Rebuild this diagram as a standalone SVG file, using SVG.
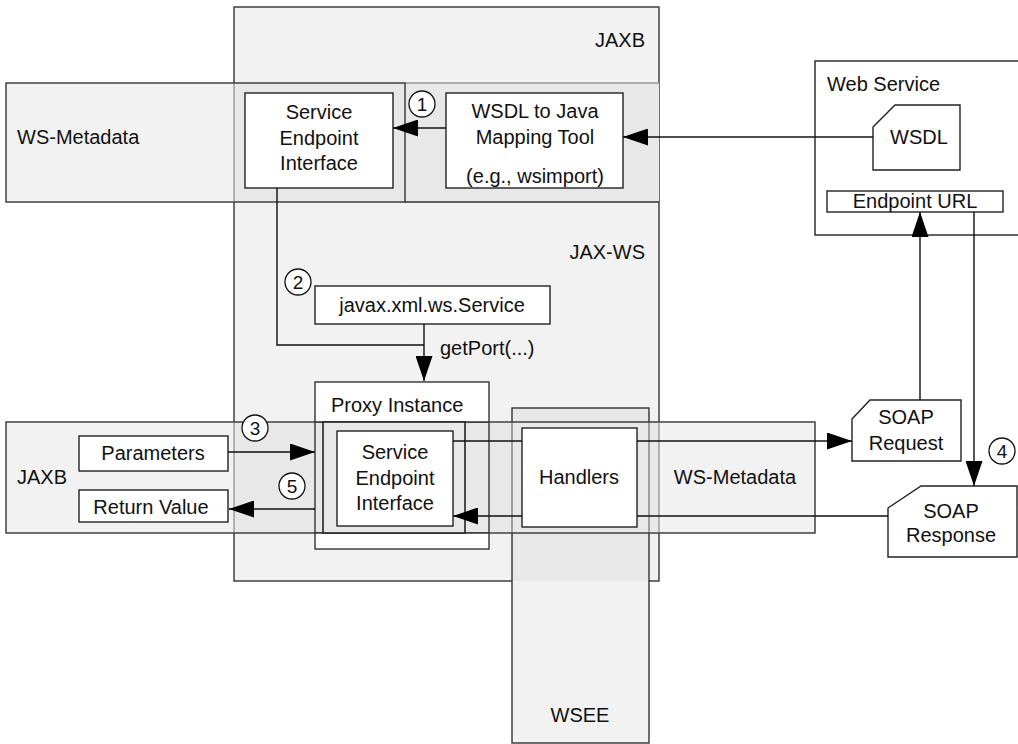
<svg xmlns="http://www.w3.org/2000/svg" width="1018" height="744" viewBox="0 0 1018 744">
<style>
text{font-family:"Liberation Sans",Arial,sans-serif;font-size:20px;fill:#111}
.c{text-anchor:middle}
.r{text-anchor:end}
.num{font-size:19px;text-anchor:middle}
.box{fill:#fff;stroke:#222;stroke-width:1.4}
.reg{fill:#f2f2f2;stroke:#333;stroke-width:1.4}
.ov{fill:#e8e8e8;stroke:none}
.edge{fill:none;stroke:#333;stroke-width:1.4}
.light{fill:none;stroke:#999;stroke-width:1.4}
.conn{fill:none;stroke:#111;stroke-width:1.4}
.circ{fill:#fff;stroke:#111;stroke-width:1.3}
</style>
<defs>
<marker id="ah" markerUnits="userSpaceOnUse" markerWidth="25" markerHeight="17" refX="25" refY="8.5" orient="auto">
<path d="M0,0 L25,8.5 L0,17 z" fill="#000"/>
</marker>
</defs>

<g id="regions">
  <g id="jaxws-box">
    <rect class="reg" x="234" y="7" width="425" height="574"/>
    <text class="r" x="645" y="47">JAXB</text>
    <text class="r" x="645" y="259">JAX-WS</text>
  </g>
  <g id="top-band">
    <rect class="ov" x="234" y="83" width="425" height="119"/>
    <line class="light" x1="405" y1="83" x2="659" y2="83"/>
    <line class="edge" x1="405" y1="202" x2="659" y2="202"/>
  </g>
  <g id="ws-metadata-top">
    <rect x="6" y="83" width="228" height="119" fill="#f2f2f2"/>
    <rect class="edge" x="6" y="83" width="399" height="119"/>
    <line x1="234" y1="83" x2="234" y2="202" stroke="#777" stroke-width="1"/>
    <text x="17" y="144">WS-Metadata</text>
  </g>
  <g id="web-service">
    <rect class="box" x="815" y="61" width="210" height="174"/>
    <text x="827" y="91">Web Service</text>
  </g>
  <g id="wsee">
    <rect x="512" y="408" width="137" height="335" fill="#f2f2f2"/>
    <rect class="ov" x="512" y="408" width="137" height="173"/>
    <rect class="edge" x="512" y="408" width="137" height="335"/>
    <text class="c" x="580" y="722">WSEE</text>
  </g>
  <g id="bottom-band">
    <rect x="6" y="422" width="228" height="111" fill="#f2f2f2"/>
    <rect x="659" y="422" width="156" height="111" fill="#f2f2f2"/>
    <rect class="ov" x="234" y="422" width="425" height="111"/>
    <rect class="edge" x="6" y="422" width="809" height="111"/>
    <line x1="234" y1="422" x2="234" y2="533" stroke="#777" stroke-width="1"/>
    <line x1="659" y1="422" x2="659" y2="533" stroke="#777" stroke-width="1"/>
    <line x1="512" y1="422" x2="512" y2="533" stroke="#555" stroke-width="1"/>
    <line x1="649" y1="422" x2="649" y2="533" stroke="#555" stroke-width="1"/>
    <text x="17" y="484">JAXB</text>
    <text class="c" x="735" y="484">WS-Metadata</text>
  </g>
  <g id="proxy-instance">
    <rect x="315" y="382" width="174" height="40" fill="#fff"/>
    <rect x="315" y="533" width="174" height="16" fill="#fff"/>
    <rect class="edge" x="315" y="382" width="174" height="167"/>
    <line class="edge" x1="315" y1="422" x2="489" y2="422"/>
    <line class="edge" x1="315" y1="533" x2="489" y2="533"/>
    <text x="331" y="412">Proxy Instance</text>
    <rect x="323" y="422" width="142" height="111" fill="#e8e8e8" stroke="#222" stroke-width="1.6"/>
  </g>
</g>

<g id="sei-top">
  <rect class="box" x="245" y="93" width="148" height="95"/>
  <text class="c" x="319" y="119">Service</text>
  <text class="c" x="319" y="145">Endpoint</text>
  <text class="c" x="319" y="170">Interface</text>
</g>
<g id="mapping-tool">
  <rect class="box" x="446" y="93" width="177" height="95"/>
  <text class="c" x="535" y="118">WSDL to Java</text>
  <text class="c" x="535" y="144">Mapping Tool</text>
  <text class="c" x="535" y="183">(e.g., wsimport)</text>
</g>
<g id="wsdl">
  <path class="box" d="M873,127 L895,105 L960,105 L960,170 L873,170 z"/>
  <text class="c" x="919" y="144">WSDL</text>
</g>
<g id="endpoint-url">
  <rect class="box" x="827" y="191" width="176" height="21"/>
  <text class="c" x="915" y="208">Endpoint URL</text>
</g>
<g id="service">
  <rect class="box" x="315" y="286" width="235" height="38"/>
  <text class="c" x="432" y="312">javax.xml.ws.Service</text>
</g>
<g id="sei-inner">
  <rect class="box" x="337" y="431" width="116" height="95"/>
  <text class="c" x="395" y="459">Service</text>
  <text class="c" x="395" y="485">Endpoint</text>
  <text class="c" x="395" y="510">Interface</text>
</g>
<g id="parameters">
  <rect class="box" x="79" y="436" width="149" height="35"/>
  <text class="c" x="153" y="460">Parameters</text>
</g>
<g id="return-value">
  <rect class="box" x="79" y="490" width="149" height="32"/>
  <text class="c" x="151" y="514">Return Value</text>
</g>
<g id="handlers">
  <rect class="box" x="522" y="428" width="115" height="99"/>
  <text class="c" x="579" y="484">Handlers</text>
</g>
<g id="soap-request">
  <path class="box" d="M852,419 L870,400 L961,400 L961,461 L852,461 z"/>
  <text class="c" x="906" y="424">SOAP</text>
  <text class="c" x="906" y="450">Request</text>
</g>
<g id="soap-response">
  <path class="box" d="M888,508 L921,486 L1017,486 L1017,557 L888,557 z"/>
  <text class="c" x="951" y="518">SOAP</text>
  <text class="c" x="951" y="542">Response</text>
</g>

<g id="connectors">
  <line class="conn" x1="446" y1="128" x2="393" y2="128" marker-end="url(#ah)"/>
  <line class="conn" x1="873" y1="137" x2="623" y2="137" marker-end="url(#ah)"/>
  <polyline class="conn" points="277,188 277,345 424,345"/>
  <line class="conn" x1="424" y1="324" x2="424" y2="381" marker-end="url(#ah)"/>
  <text x="440" y="355">getPort(...)</text>
  <line class="conn" x1="228" y1="452" x2="315" y2="452" marker-end="url(#ah)"/>
  <line class="conn" x1="315" y1="509" x2="229" y2="509" marker-end="url(#ah)"/>
  <line class="conn" x1="453" y1="441" x2="522" y2="441"/>
  <line class="conn" x1="637" y1="441" x2="852" y2="441" marker-end="url(#ah)"/>
  <line class="conn" x1="888" y1="516" x2="637" y2="516"/>
  <line class="conn" x1="522" y1="516" x2="453" y2="516" marker-end="url(#ah)"/>
  <line class="conn" x1="920" y1="400" x2="920" y2="212" marker-end="url(#ah)"/>
  <line class="conn" x1="974" y1="212" x2="974" y2="486" marker-end="url(#ah)"/>
</g>

<g id="steps">
  <g id="step1"><circle class="circ" cx="422" cy="104" r="13"/><text class="num" x="422" y="111">1</text></g>
  <g id="step2"><circle class="circ" cx="298" cy="282" r="13"/><text class="num" x="298" y="289">2</text></g>
  <g id="step3"><circle class="circ" cx="255" cy="428" r="13"/><text class="num" x="255" y="435">3</text></g>
  <g id="step4"><circle class="circ" cx="1002" cy="451" r="13"/><text class="num" x="1002" y="458">4</text></g>
  <g id="step5"><circle class="circ" cx="292" cy="486" r="13"/><text class="num" x="292" y="493">5</text></g>
</g>
</svg>
